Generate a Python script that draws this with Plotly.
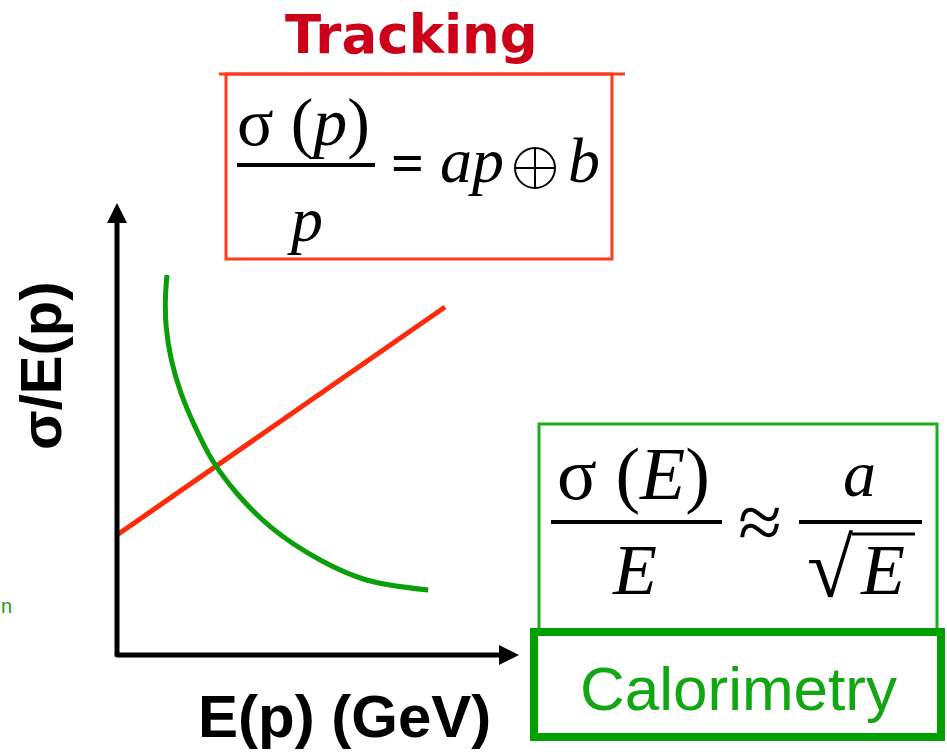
import plotly.graph_objects as go

# ---- data (schematic resolution curves) ----
track_energy = [0.0, 8.2]
track_resolution = [3.0, 8.7]

calo_energy = [1.25, 1.21, 1.23, 1.36, 1.6, 1.95, 2.38, 2.99, 3.83, 5.08, 6.24, 7.78]
calo_resolution = [9.5, 8.9, 8.2, 7.375, 6.55, 5.71, 4.875, 4.05, 3.21, 2.375, 1.875, 1.625]

axis_x_end = 10.05
axis_y_end = 11.3

W, H = 947, 754
X0, Y0, S = 117, 655, 40  # pixel origin and pixels per unit


def px(x):
    return x / W


def py(y):
    return 1 - y / H


fig = go.Figure()
fig.add_trace(go.Scatter(x=track_energy, y=track_resolution, mode="lines",
                         line=dict(color="#ff2a0a", width=5), showlegend=False, hoverinfo="skip"))
fig.add_trace(go.Scatter(x=calo_energy, y=calo_resolution, mode="lines", line_shape="spline",
                         line=dict(color="#0a9e0a", width=5, smoothing=1.0), showlegend=False, hoverinfo="skip"))

ann = []
# axes arrows
ann.append(dict(x=0, y=axis_y_end, ax=0, ay=-0.08, xref="x", yref="y", axref="x", ayref="y",
                text="", showarrow=True, arrowhead=2, arrowsize=0.8, arrowwidth=5, arrowcolor="black"))
ann.append(dict(x=axis_x_end, y=0, ax=-0.06, ay=0, xref="x", yref="y", axref="x", ayref="y",
                text="", showarrow=True, arrowhead=2, arrowsize=0.8, arrowwidth=5, arrowcolor="black"))

SANS = "Liberation Sans"
SERIF = "Liberation Serif"


def txt(x, y, t, size, color="black", family=SANS, angle=0, xanchor="center"):
    ann.append(dict(x=px(x), y=py(y), xref="paper", yref="paper", text=t, showarrow=False,
                    font=dict(size=size, color=color, family=family), textangle=angle,
                    xanchor=xanchor, yanchor="middle", borderpad=0))


txt(411, 34, "<b>Tracking</b>", 53, "#cc0018", "DejaVu Sans")
txt(344, 716, "<b>E(p) (GeV)</b>", 60)
txt(40, 366, "<b>σ/E(p)</b>", 58, angle=-90)
txt(738, 688, "Calorimetry", 62, "#12a612")
txt(0, 606, "n", 20, "#18a018", xanchor="left")

# tracking formula
txt(303, 122, "σ (<i>p</i>)", 68, family=SERIF)
txt(305, 219, "<i>p</i>", 64, family=SERIF)
txt(407, 162, "<b>=</b>", 58, family=SERIF)
txt(472, 160, "<i>ap</i>", 64, family=SERIF)
txt(584, 160, "<i>b</i>", 64, family=SERIF)

# calorimetry formula
txt(633, 474, "σ (<i>E</i>)", 74, family=SERIF)
txt(634, 570, "<i>E</i>", 72, family=SERIF)
txt(760, 522, "≈", 80, family=SERIF)
txt(859, 473, "<i>a</i>", 66, family=SERIF)
txt(830, 568, "√", 84, family=SERIF)
txt(882, 570, "<i>E</i>", 72, family=SERIF)

shapes = []


def rect(x0, y0, x1, y1, color, width):
    shapes.append(dict(type="rect", xref="paper", yref="paper", x0=px(x0), y0=py(y0), x1=px(x1), y1=py(y1),
                       line=dict(color=color, width=width), fillcolor="rgba(0,0,0,0)"))


def hline(x0, x1, y, color, width):
    shapes.append(dict(type="line", xref="paper", yref="paper", x0=px(x0), y0=py(y), x1=px(x1), y1=py(y),
                       line=dict(color=color, width=width)))


def vline(x, y0, y1, color, width):
    shapes.append(dict(type="line", xref="paper", yref="paper", x0=px(x), y0=py(y0), x1=px(x), y1=py(y1),
                       line=dict(color=color, width=width)))


rect(226, 74, 612, 259, "#ff3b1f", 3)
hline(219, 625, 74, "#ff3b1f", 3)
hline(237, 375, 165, "black", 4)
# oplus symbol
shapes.append(dict(type="circle", xref="paper", yref="paper", x0=px(515), y0=py(148), x1=px(555), y1=py(188),
                   line=dict(color="black", width=2)))
hline(515, 555, 168, "black", 2)
vline(535, 148, 188, "black", 2)

rect(539, 424, 937, 630, "#22aa22", 3)
rect(534, 632, 941, 737, "#00a000", 8)
hline(551, 722, 522, "black", 4)
hline(799, 922, 522, "black", 4)
hline(852, 915, 534, "black", 3)

fig.update_layout(
    width=W, height=H, margin=dict(l=0, r=0, t=0, b=0),
    paper_bgcolor="white", plot_bgcolor="white",
    xaxis=dict(range=[-X0 / S, (W - X0) / S], visible=False, fixedrange=True),
    yaxis=dict(range=[(Y0 - H) / S, Y0 / S], visible=False, fixedrange=True),
    annotations=ann, shapes=shapes, showlegend=False,
)
fig.write_html("out.html", config={"displayModeBar": False},
               post_script="document.body.style.margin='0';document.body.style.overflow='hidden';")
